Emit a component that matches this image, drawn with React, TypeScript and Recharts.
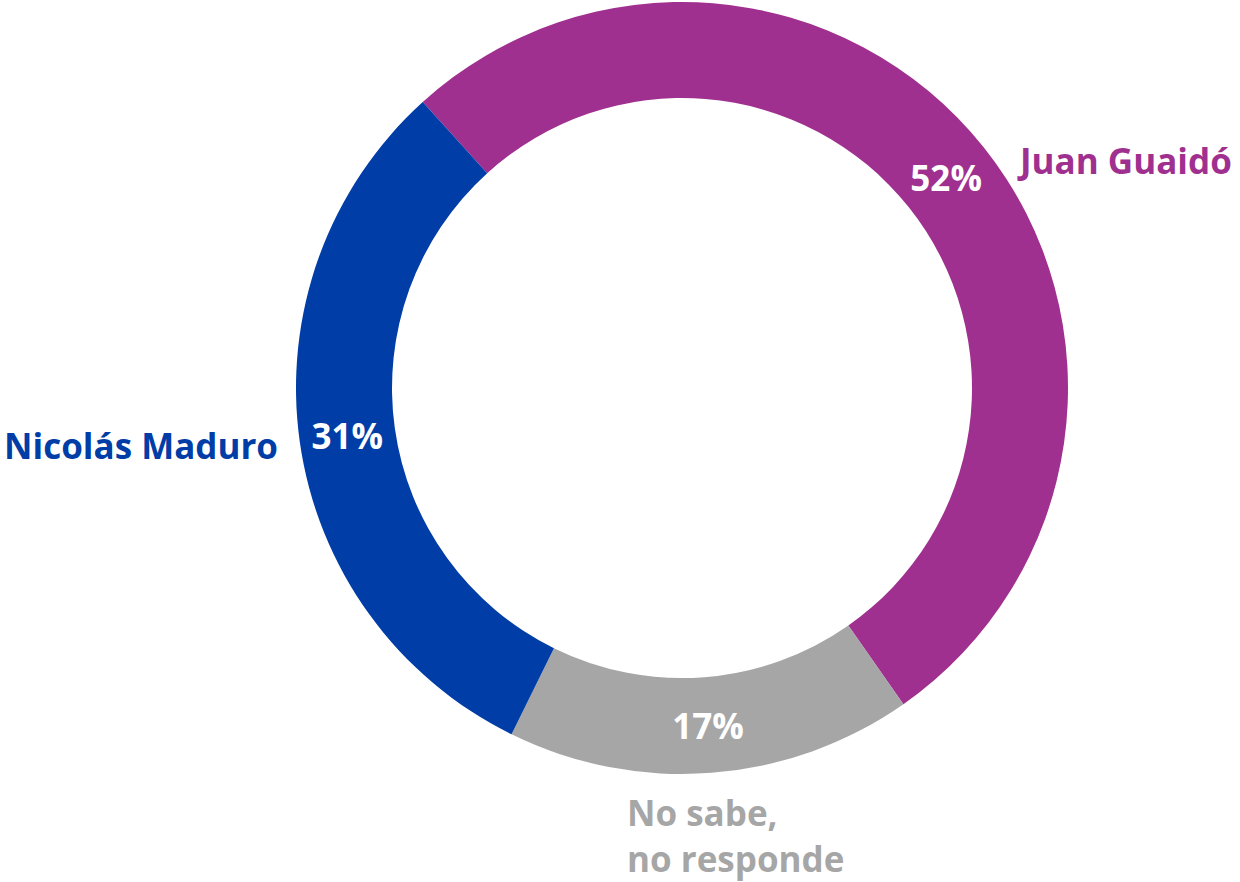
import { PieChart, Pie, Cell } from 'recharts'

const names = ['Juan Guaidó', 'No sabe, no responde', 'Nicolás Maduro']
const shares = [52, 17, 31]
const colors = ['#A0308F', '#A6A6A6', '#003DA6']

// name label placement (page coords), per slice
const nameLayout = [
  { x: 1020, y: 174, anchor: 'start', lines: ['Juan Guaidó'] },
  { x: 627, y: 826, anchor: 'start', lines: ['No sabe,', 'no responde'] },
  { x: 278, y: 459, anchor: 'end', lines: ['Nicolás Maduro'] },
]

const data = names.map((n, i) => ({ name: n, value: shares[i] }))

const FONT = '"Open Sans", Lato, sans-serif'
const RAD = Math.PI / 180

function renderLabel(props: any) {
  const { cx, cy, midAngle, innerRadius, outerRadius, index, value } = props
  const r = (innerRadius + outerRadius) / 2
  const px = cx + r * Math.cos(-midAngle * RAD)
  const py = cy + r * Math.sin(-midAngle * RAD)
  const lay = nameLayout[index]
  return (
    <g>
      <text x={px} y={py} fill="#fff" textAnchor="middle" dominantBaseline="central"
        style={{ fontFamily: FONT, fontWeight: 700, fontSize: 35 }}>
        {value}%
      </text>
      <text x={lay.x} y={lay.y} fill={colors[index]} textAnchor={lay.anchor as any}
        style={{ fontFamily: FONT, fontWeight: 700, fontSize: 35 }}>
        {lay.lines.map((l, k) => (
          <tspan key={k} x={lay.x} dy={k === 0 ? 0 : 46}>{l}</tspan>
        ))}
      </text>
    </g>
  )
}

export default function App() {
  return (
    <div style={{ position: 'absolute', left: 0, top: 0, width: 1240, height: 882 }}>
      <PieChart width={1240} height={882}>
        <Pie
          data={data}
          dataKey="value"
          cx={677}
          cy={383}
          innerRadius={290}
          outerRadius={386}
          startAngle={132.2}
          endAngle={-227.8}
          stroke="none"
          label={renderLabel}
          labelLine={false}
          isAnimationActive={false}
        >
          {data.map((d, i) => <Cell key={d.name} fill={colors[i]} />)}
        </Pie>
      </PieChart>
    </div>
  )
}
